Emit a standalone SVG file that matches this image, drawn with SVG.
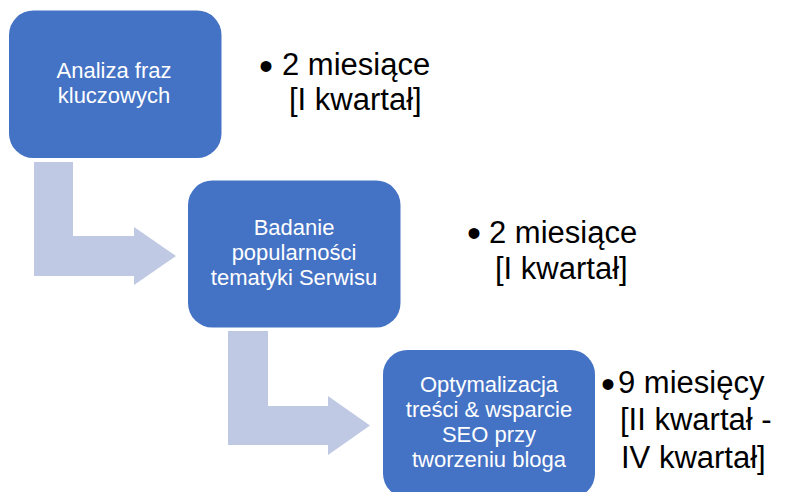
<svg xmlns="http://www.w3.org/2000/svg" width="790" height="492" viewBox="0 0 790 492">
<style>
.box{fill:#4472C4;}
.arrow{fill:#BFC9E4;}
.bt{font-family:"Liberation Sans",Arial,sans-serif;font-size:22px;fill:#FFFFFF;text-anchor:middle;}
.rt{font-family:"Liberation Sans",Arial,sans-serif;font-size:31px;fill:#000000;}
.bu{font-family:"Liberation Sans",Arial,sans-serif;font-size:40px;fill:#000000;}
</style>
<rect width="790" height="492" fill="#FFFFFF"/>
<g id="connectors">
<path class="arrow" d="M34,162 H73 V236 H134 V227 L176,256 L134,285 V276 H34 Z"/>
<path class="arrow" d="M228,331 H268 V406 H328 V396 L370,425.5 L328,455 V445 H228 Z"/>
</g>
<g id="node1">
<rect class="box" x="9" y="10.5" width="212.5" height="147.5" rx="24.5" ry="24.5"/>
<text class="bt" x="114" y="78">Analiza fraz</text>
<text class="bt" x="114" y="102.5">kluczowych</text>
</g>
<g id="node2">
<rect class="box" x="188" y="180.5" width="212.5" height="147" rx="24.5" ry="24.5"/>
<text class="bt" x="294" y="235">Badanie</text>
<text class="bt" x="294" y="260">popularności</text>
<text class="bt" x="294" y="285">tematyki Serwisu</text>
</g>
<g id="node3">
<rect class="box" x="383" y="350" width="212" height="148" rx="24.5" ry="24.5"/>
<text class="bt" x="489" y="392">Optymalizacja</text>
<text class="bt" x="489" y="417">treści &amp; wsparcie</text>
<text class="bt" x="489" y="442">SEO przy</text>
<text class="bt" x="489" y="467">tworzeniu bloga</text>
</g>
<g id="label1">
<text class="bu" x="259" y="80">•</text>
<text class="rt" x="282" y="75">2 miesiące</text>
<text class="rt" x="289" y="110">[I kwartał]</text>
</g>
<g id="label2">
<text class="bu" x="467" y="246.5">•</text>
<text class="rt" x="489" y="243">2 miesiące</text>
<text class="rt" x="495" y="279">[I kwartał]</text>
</g>
<g id="label3">
<text class="bu" x="601" y="397.5">•</text>
<text class="rt" x="618" y="393">9 miesięcy</text>
<text class="rt" x="620" y="430">[II kwartał -</text>
<text class="rt" x="621" y="468">IV kwartał]</text>
</g>
</svg>
